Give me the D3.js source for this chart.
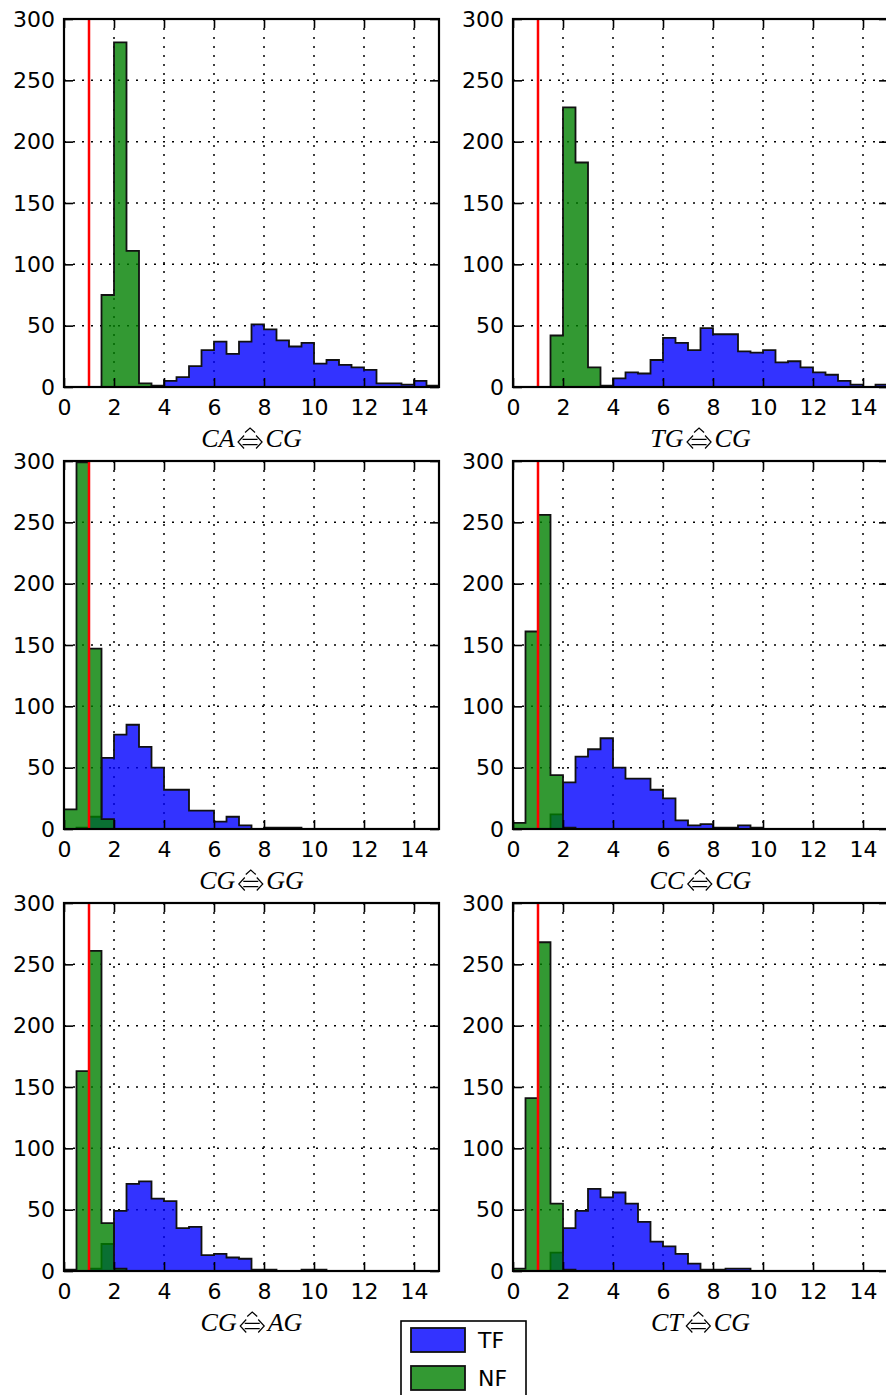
<!DOCTYPE html>
<html>
<head>
<meta charset="UTF-8">
<style>
  body { margin: 0; background: white; overflow: hidden; }
  svg { display: block; }
  .tick text { font-family: "DejaVu Sans", sans-serif; font-size: 22px; fill: black; }
  .tick line { stroke: black; stroke-width: 1.6; }
  .title { font-family: "Liberation Serif", serif; font-style: italic; font-size: 26px; fill: black; }
  .grid line { stroke: black; stroke-width: 1.5; stroke-dasharray: 2,7; }
  .legend text { font-family: "DejaVu Sans", sans-serif; font-size: 22px; fill: black; }
</style>
</head>
<body>
<svg></svg>
<script src="https://d3js.org/d3.v7.min.js"></script>
<script>
let width = 886, height = 1395;

// histogram bins: left edges, width 0.5, range 0..15
let binWidth = 0.5;
let binStarts = d3.range(0, 15, binWidth);

let xTicks = [0, 2, 4, 6, 8, 10, 12, 14];
let yTicks = [0, 50, 100, 150, 200, 250, 300];
let threshold = 1;

// panel titles (left pair, right pair)
let titles = [["CA", "CG"], ["TG", "CG"], ["CG", "GG"], ["CC", "CG"], ["CG", "AG"], ["CT", "CG"]];

// counts per bin (30 bins)
let tfCA = [0,0,0,0,0,0,0,1,5,8,17,30,37,27,37,51,47,38,33,36,19,22,18,16,14,3,3,2,5,1];
let nfCA = [0,0,0,75,281,111,3,0,0,0,0,0,0,0,0,0,0,0,0,0,0,0,0,0,0,0,0,0,0,0];

let tfTG = [0,0,0,0,0,0,0,0,7,12,11,22,40,36,30,48,43,43,29,28,30,20,21,16,12,10,5,2,0,2];
let nfTG = [0,0,0,42,228,183,16,1,0,0,0,0,0,0,0,0,0,0,0,0,0,0,0,0,0,0,0,0,0,0];

let tfGG = [0,1,10,58,77,85,67,50,32,32,15,15,6,10,3,0,1,1,1,0,0,0,0,0,0,0,0,0,0,0];
let nfGG = [16,299,147,8,0,0,0,0,0,0,0,0,0,0,0,0,0,0,0,0,0,0,0,0,0,0,0,0,0,0];

let tfCC = [0,0,0,12,38,59,65,74,50,41,41,32,25,7,3,4,1,1,3,1,0,0,0,0,0,0,0,0,0,0];
let nfCC = [5,161,256,44,1,0,0,0,0,0,0,0,0,0,0,0,0,0,0,0,0,0,0,0,0,0,0,0,0,0];

let tfAG = [0,0,2,22,49,71,73,59,57,35,36,13,14,11,10,1,1,0,0,1,1,0,0,0,0,0,0,0,0,0];
let nfAG = [1,163,261,39,2,0,0,0,0,0,0,0,0,0,0,0,0,0,0,0,0,0,0,0,0,0,0,0,0,0];

let tfCT = [0,0,0,15,35,49,67,60,64,55,40,24,20,14,6,1,1,2,2,0,0,0,0,0,0,0,0,0,0,0];
let nfCT = [2,141,268,55,1,0,0,0,0,0,0,0,0,0,0,0,0,0,0,0,0,0,0,0,0,0,0,0,0,0];

let tfSeries = [tfCA, tfTG, tfGG, tfCC, tfAG, tfCT];
let nfSeries = [nfCA, nfTG, nfGG, nfCC, nfAG, nfCT];

let legendLabels = ["TF", "NF"];
let colors = { TF: "#0000ff", NF: "#008000" };

// layout
let colX = [64, 513], rowY = [19, 461, 903];
let pw = 375, ph = 368;

let svg = d3.select("svg")
    .attr("width", width)
    .attr("height", height);

let x = d3.scaleLinear().domain([0, 15]).range([0, pw]);
let y = d3.scaleLinear().domain([0, 300]).range([ph, 0]);

let line = d3.line().x(d => x(d[0])).y(d => y(d[1]));

// stepfilled outline
function stepPoints(counts) {
  let pts = [[0, 0]];
  counts.forEach((c, i) => {
    pts.push([binStarts[i], c]);
    pts.push([binStarts[i] + binWidth, c]);
  });
  pts.push([15, 0]);
  return pts;
}

function drawTitle(g, cx, baseY, left, right) {
  let t1 = g.append("text").attr("class", "title").attr("y", baseY).text(left);
  let t2 = g.append("text").attr("class", "title").attr("y", baseY).text(right);
  let w1 = t1.node().getComputedTextLength();
  let w2 = t2.node().getComputedTextLength();
  let aw = 25, gap = 3;
  let x0 = cx - (w1 + aw + w2 + 2 * gap) / 2;
  t1.attr("x", x0);
  let ax = x0 + w1 + gap;
  t2.attr("x", ax + aw + gap);
  let cy = baseY - 5;
  // double arrow with hat
  let arrow = d3.path();
  arrow.moveTo(ax + 5, cy - 2.6); arrow.lineTo(ax + aw - 5, cy - 2.6);
  arrow.moveTo(ax + 5, cy + 2.6); arrow.lineTo(ax + aw - 5, cy + 2.6);
  arrow.moveTo(ax + 6.5, cy - 6.5); arrow.lineTo(ax + 0.5, cy); arrow.lineTo(ax + 6.5, cy + 6.5);
  arrow.moveTo(ax + aw - 6.5, cy - 6.5); arrow.lineTo(ax + aw - 0.5, cy); arrow.lineTo(ax + aw - 6.5, cy + 6.5);
  let hc = ax + aw / 2;
  arrow.moveTo(hc - 5, cy - 9.5); arrow.lineTo(hc, cy - 14); arrow.lineTo(hc + 5, cy - 9.5);
  g.append("path").attr("d", arrow.toString())
      .attr("fill", "none").attr("stroke", "black").attr("stroke-width", 1.2);
}

titles.forEach((t, k) => {
  let ox = colX[k % 2], oy = rowY[Math.floor(k / 2)];
  let g = svg.append("g").attr("transform", `translate(${ox},${oy})`);

  g.append("clipPath").attr("id", "clip" + k)
    .append("rect").attr("width", pw).attr("height", ph);

  // dotted grid
  let grid = g.append("g").attr("class", "grid");
  grid.selectAll(".gx").data(xTicks.filter(v => v > 0)).enter().append("line")
      .attr("x1", d => x(d)).attr("x2", d => x(d)).attr("y1", 0).attr("y2", ph);
  grid.selectAll(".gy").data(yTicks.filter(v => v > 0 && v < 300)).enter().append("line")
      .attr("y1", d => y(d)).attr("y2", d => y(d)).attr("x1", 0).attr("x2", pw);

  let plot = g.append("g").attr("clip-path", `url(#clip${k})`);
  plot.append("path")
      .attr("d", line(stepPoints(tfSeries[k])) + "Z")
      .attr("fill", colors.TF).attr("fill-opacity", 0.8)
      .attr("stroke", "#111").attr("stroke-width", 1.8).attr("stroke-linejoin", "miter");
  plot.append("path")
      .attr("d", line(stepPoints(nfSeries[k])) + "Z")
      .attr("fill", colors.NF).attr("fill-opacity", 0.8)
      .attr("stroke", "#111").attr("stroke-width", 1.8).attr("stroke-linejoin", "miter");

  // threshold line
  plot.append("line")
      .attr("x1", x(threshold)).attr("x2", x(threshold))
      .attr("y1", 0).attr("y2", ph)
      .attr("stroke", "red").attr("stroke-width", 2.5);

  // axes with inward ticks
  g.append("g").attr("transform", `translate(0,${ph})`)
      .call(d3.axisBottom(x).tickValues(xTicks).tickSizeInner(-9).tickSizeOuter(0).tickPadding(12))
      .call(a => a.select(".domain").remove());
  g.append("g")
      .call(d3.axisTop(x).tickValues(xTicks).tickSizeInner(-9).tickSizeOuter(0).tickFormat(""))
      .call(a => a.select(".domain").remove());
  g.append("g")
      .call(d3.axisLeft(y).tickValues(yTicks).tickSizeInner(-9).tickSizeOuter(0).tickPadding(9))
      .call(a => a.select(".domain").remove());
  g.append("g").attr("transform", `translate(${pw},0)`)
      .call(d3.axisRight(y).tickValues(yTicks).tickSizeInner(-9).tickSizeOuter(0).tickFormat(""))
      .call(a => a.select(".domain").remove());

  g.selectAll(".tick text").attr("fill", "black");

  // frame
  g.append("rect").attr("width", pw).attr("height", ph)
      .attr("fill", "none").attr("stroke", "black").attr("stroke-width", 2.2);

  drawTitle(g, pw / 2, ph + 60, t[0], t[1]);
});

// legend
let legend = svg.append("g").attr("class", "legend").attr("transform", "translate(401,1321)");
legend.append("rect").attr("width", 125).attr("height", 82)
    .attr("fill", "white").attr("stroke", "black").attr("stroke-width", 1.6);
legendLabels.forEach((lab, i) => {
  legend.append("rect")
      .attr("x", 10).attr("y", 7 + i * 38).attr("width", 54).attr("height", 24)
      .attr("fill", colors[lab]).attr("fill-opacity", 0.8)
      .attr("stroke", "#111").attr("stroke-width", 1.8);
  legend.append("text")
      .attr("x", 77).attr("y", 19 + i * 38).attr("dy", "0.36em")
      .text(lab);
});
</script>
</body>
</html>
